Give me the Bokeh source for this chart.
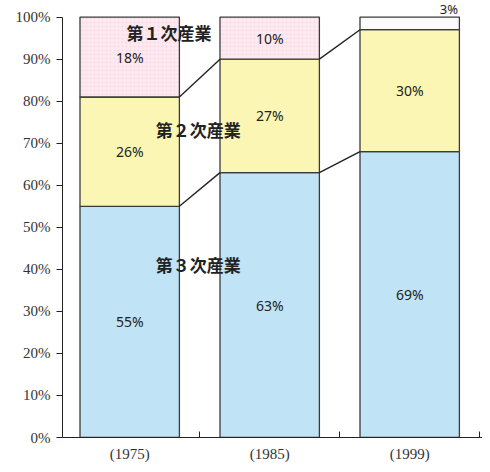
from bokeh.plotting import figure
from bokeh.models import FixedTicker, Range1d, Label
from bokeh.embed import file_html
from bokeh.resources import INLINE
from bokeh.core.properties import value

years = ["(1975)", "(1985)", "(1999)"]
tertiary = [55, 63, 68]
secondary = [26, 27, 29]
primary = [19, 10, 3]
tertiary_lbl = ["55%", "63%", "69%"]
secondary_lbl = ["26%", "27%", "30%"]
primary_lbl = ["18%", "10%", "3%"]
sector_names = ["第１次産業", "第２次産業", "第３次産業"]
y_ticks = list(range(0, 101, 10))

xs = [0, 1, 2]
W = 0.71

p = figure(width=482, height=464, output_backend="svg", toolbar_location=None,
           x_range=Range1d(-0.48, 2.52), y_range=Range1d(0, 103.95),
           min_border_left=62, min_border_right=0, min_border_top=0, min_border_bottom=17)
p.grid.visible = False
p.outline_line_color = None
p.background_fill_color = "white"

b1 = tertiary
t1 = [a + b for a, b in zip(tertiary, secondary)]
t2 = [a + b for a, b in zip(t1, primary)]

line_c = "#3a3a3a"
p.vbar(x=xs, width=W, bottom=0, top=b1, fill_color="#c1e3f6", line_color=line_c, line_width=1.3)
p.vbar(x=xs, width=W, bottom=b1, top=t1, fill_color="#fbf6b4", line_color=line_c, line_width=1.3)
pink_fill = ["#fdeaf1", "#fdeaf1", "#fbfbfb"]
p.vbar(x=xs, width=W, bottom=t1, top=t2, fill_color=pink_fill, line_color=line_c, line_width=1.3,
       hatch_pattern=["dot", "dot", " "], hatch_color="#f5cddb", hatch_scale=4, hatch_alpha=0.6)

# connectors
for i in range(2):
    for arr in (b1, t1):
        p.line([xs[i] + W / 2, xs[i + 1] - W / 2], [arr[i], arr[i + 1]], line_color="#222", line_width=1.4)

pct_font = value("Noto Sans")
fs = "14px"
p.text(x=xs, y=[v / 2 for v in b1], text=tertiary_lbl, text_align="center", text_baseline="middle",
       text_font=pct_font, text_font_size=fs, text_color="#222")
p.text(x=xs, y=[(a + b) / 2 for a, b in zip(b1, t1)], text=secondary_lbl, text_align="center",
       text_baseline="middle", text_font=pct_font, text_font_size=fs, text_color="#222")
p.text(x=xs[:2], y=[(a + b) / 2 for a, b in zip(t1[:2], t2[:2])], text=primary_lbl[:2], text_align="center",
       text_baseline="middle", text_font=pct_font, text_font_size=fs, text_color="#222")
p.add_layout(Label(x=xs[2] + 0.28, y=t2[2] + 1.86, text=primary_lbl[2], text_align="center",
                   text_baseline="middle", text_font="Noto Sans", text_font_size="13px",
                   text_color="#222"))

# sector names
p.text(x=[0.28, 0.49, 0.49], y=[96.3, 73.3, 41.2], text=sector_names, text_align="center",
       text_baseline="middle", text_font=value("Noto Sans CJK JP"), text_font_size="17px",
       text_font_style="bold", text_color="#222")

# axes
p.yaxis.ticker = FixedTicker(ticks=y_ticks)
p.yaxis.major_label_overrides = {t: f"{t}%" for t in y_ticks}
p.yaxis.bounds = (0, 100)
p.yaxis.major_tick_in = 0
p.yaxis.major_tick_out = 6
p.yaxis.minor_tick_line_color = None
p.yaxis.major_label_standoff = 6
p.yaxis.major_label_text_font = "Liberation Serif"
p.yaxis.major_label_text_font_size = "15px"
p.yaxis.major_label_text_color = "#333"
p.yaxis.axis_line_color = "#222"
p.yaxis.major_tick_line_color = "#222"

p.xaxis.ticker = FixedTicker(ticks=xs, minor_ticks=[0.5, 1.5, 2.5])
p.xaxis.major_label_overrides = {i: y for i, y in zip(xs, years)}
p.xaxis.major_tick_line_color = None
p.xaxis.minor_tick_in = 6
p.xaxis.minor_tick_out = 0
p.xaxis.minor_tick_line_color = "#222"
p.xaxis.axis_line_color = "#222"
p.xaxis.major_label_standoff = 2
p.xaxis.major_label_text_font = "Liberation Serif"
p.xaxis.major_label_text_font_size = "15px"
p.xaxis.major_label_text_color = "#333"

open("out.html", "w").write(file_html(p, INLINE))
